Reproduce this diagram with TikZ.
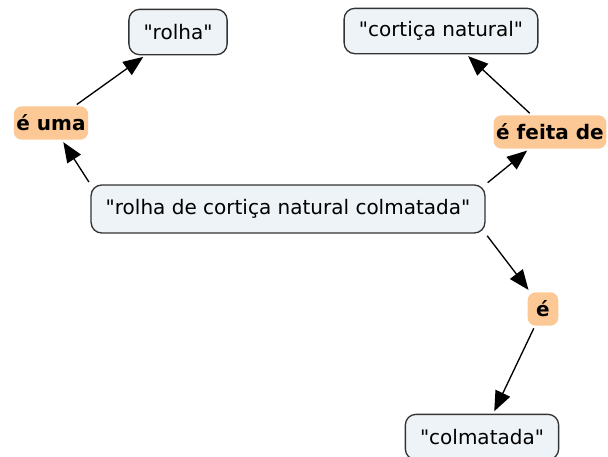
\documentclass[tikz,border=0pt]{standalone}
\usepackage{fontspec}
\setmainfont{DejaVu Sans}
\usetikzlibrary{arrows.meta,positioning}

\definecolor{conceptfill}{HTML}{EDF3F7}
\definecolor{linkfill}{HTML}{FCC896}
\newcommand{\qt}[1]{\textquotedbl#1\textquotedbl}

\tikzset{
  concept/.style={draw=black!80, fill=conceptfill, line width=1pt, rounded corners=8pt,
    inner xsep=11pt, minimum height=34pt, font=\fontsize{15}{18}\selectfont},
  linkphrase/.style={fill=linkfill, rounded corners=6pt, inner xsep=2pt,
    minimum height=25pt, font=\bfseries\fontsize{15}{18}\selectfont},
  link/.style={-{Triangle[length=15pt,width=12pt]}, line width=1pt, shorten <=2pt, shorten >=2pt}
}

\begin{document}
\begin{tikzpicture}[x=0.75pt,y=-0.75pt]
    \useasboundingbox (0,0) rectangle (608,457);
    % concepts
    \node[concept, minimum height=36pt] (main) at (288,209) {\qt{rolha de cortiça natural colmatada}};
    \node[concept] (rolha) at (178,32) {\qt{rolha}};
    \node[concept] (cortica) at (441,31) {\qt{cortiça natural}};
    \node[concept] (colmatada) at (482,437) {\qt{colmatada}};
    % linking phrases
    \node[linkphrase] (euma) at (51,123) {é uma};
    \node[linkphrase] (efeita) at (550,132) {é feita de};
    \node[linkphrase, minimum width=23pt] (e) at (543,309) {é};
    % connectors
    \draw[link] (main.north west) -- (euma);
    \draw[link] (euma) -- (rolha);
    \draw[link] (main.north east) -- (efeita);
    \draw[link] (efeita) -- (cortica);
    \draw[link] (main.south east) -- (e);
    \draw[link] (e) -- (colmatada);
\end{tikzpicture}
\end{document}
